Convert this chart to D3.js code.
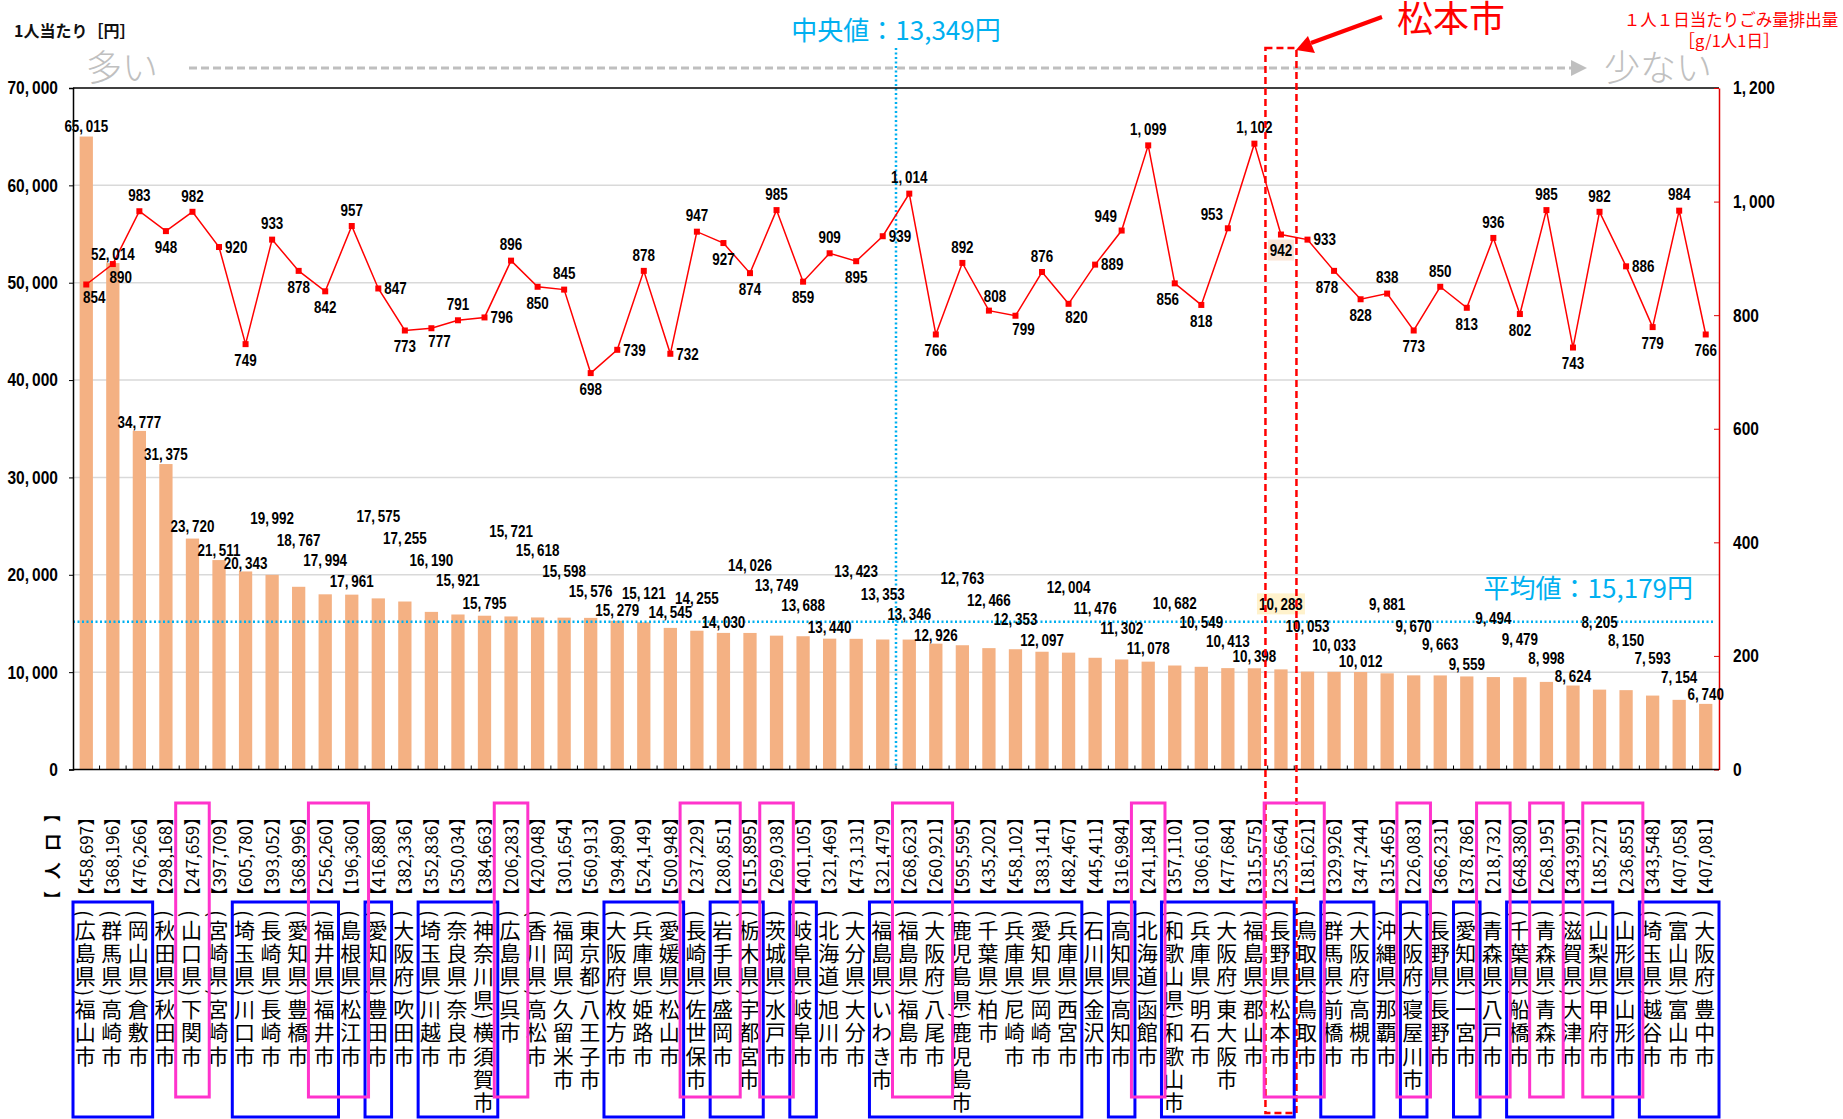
<!DOCTYPE html>
<html>
<head>
<meta charset="utf-8">
<script src="https://cdn.jsdelivr.net/npm/d3@7"></script>
<style>
  body { margin: 0; background: #fff; }
  svg { display: block; }
</style>
</head>
<body>
<svg id="chart" width="1843" height="1119"></svg>
<script>
// 1人当たりごみ処理費用（棒）と 1人1日当たりごみ排出量（折れ線）

const cities = [
  '(広島県)福山市', '(群馬県)高崎市', '(岡山県)倉敷市', '(秋田県)秋田市', '(山口県)下関市',
  '(宮崎県)宮崎市', '(埼玉県)川口市', '(長崎県)長崎市', '(愛知県)豊橋市', '(福井県)福井市',
  '(島根県)松江市', '(愛知県)豊田市', '(大阪府)吹田市', '(埼玉県)川越市', '(奈良県)奈良市',
  '(神奈川県)横須賀市', '(広島県)呉市', '(香川県)高松市', '(福岡県)久留米市', '(東京都)八王子市',
  '(大阪府)枚方市', '(兵庫県)姫路市', '(愛媛県)松山市', '(長崎県)佐世保市', '(岩手県)盛岡市',
  '(栃木県)宇都宮市', '(茨城県)水戸市', '(岐阜県)岐阜市', '(北海道)旭川市', '(大分県)大分市',
  '(福島県)いわき市', '(福島県)福島市', '(大阪府)八尾市', '(鹿児島県)鹿児島市', '(千葉県)柏市',
  '(兵庫県)尼崎市', '(愛知県)岡崎市', '(兵庫県)西宮市', '(石川県)金沢市', '(高知県)高知市',
  '(北海道)函館市', '(和歌山県)和歌山市', '(兵庫県)明石市', '(大阪府)東大阪市', '(福島県)郡山市',
  '(長野県)松本市', '(鳥取県)鳥取市', '(群馬県)前橋市', '(大阪府)高槻市', '(沖縄県)那覇市',
  '(大阪府)寝屋川市', '(長野県)長野市', '(愛知県)一宮市', '(青森県)八戸市', '(千葉県)船橋市',
  '(青森県)青森市', '(滋賀県)大津市', '(山梨県)甲府市', '(山形県)山形市', '(埼玉県)越谷市',
  '(富山県)富山市', '(大阪府)豊中市'
];

const population = [
  458697, 368196, 476266, 298168, 247659, 397709, 605780, 393052, 368996, 256260,
  196360, 416880, 382336, 352836, 350034, 384663, 206283, 420048, 301654, 560913,
  394890, 524149, 500948, 237229, 280851, 515895, 269038, 401105, 321469, 473131,
  321479, 268623, 260921, 595595, 435202, 458102, 383141, 482467, 445411, 316984,
  241184, 357110, 306610, 477684, 315575, 235664, 181621, 329926, 347244, 315465,
  226083, 366231, 378786, 218732, 648380, 268195, 343991, 185227, 236855, 343548,
  407058, 407081
];

// 1人当たり [円]
const costPerPerson = [
  65015, 52014, 34777, 31375, 23720, 21511, 20343, 19992, 18767, 17994,
  17961, 17575, 17255, 16190, 15921, 15795, 15721, 15618, 15598, 15576,
  15279, 15121, 14545, 14255, 14030, 14026, 13749, 13688, 13440, 13423,
  13353, 13346, 12926, 12763, 12466, 12353, 12097, 12004, 11476, 11302,
  11078, 10682, 10549, 10413, 10398, 10283, 10053, 10033, 10012, 9881,
  9670, 9663, 9559, 9494, 9479, 8998, 8624, 8205, 8150, 7593,
  7154, 6740
];

// 1人1日当たりごみ排出量 [g/1人1日]
const wastePerDay = [
  854, 890, 983, 948, 982, 920, 749, 933, 878, 842,
  957, 847, 773, 777, 791, 796, 896, 850, 845, 698,
  739, 878, 732, 947, 927, 874, 985, 859, 909, 895,
  939, 1014, 766, 892, 808, 799, 876, 820, 889, 949,
  1099, 856, 818, 953, 1102, 942, 933, 878, 828, 838,
  773, 850, 813, 936, 802, 985, 743, 982, 886, 779,
  984, 766
];

const medianCost = 13349;
const averageCost = 15179;
const focusCity = '(長野県)松本市';

const leftTicks = [0, 10000, 20000, 30000, 40000, 50000, 60000, 70000];
const rightTicks = [0, 200, 400, 600, 800, 1000, 1200];

// label layout (staggered by hand in the original), px above the bar top
const barLabelLift = [
  10, 9, 9, 10, 12, 10, 8, 57, 47, 34,
  13, 82, 63, 52, 34, 12, 85, 67, 46, 27,
  11, 29, 16, 32, 11, 68, 50, 31, 11, 68,
  45, 25, 8, 67, 48, 30, 11, 65, 50, 31,
  13, 62, 45, 27, 12, 65, 45, 27, 11, 69,
  49, 31, 12, 59, 38, 24, 9, 67, 50, 37,
  23, 10
];
const lineLabelPos = [
  'br', 'br', 'a', 'b', 'a', 'r', 'b', 'a', 'b', 'b',
  'a', 'r', 'b', 'br', 'a', 'r', 'a', 'b', 'a', 'b',
  'r', 'a', 'r', 'a', 'b', 'b', 'a', 'b', 'a', 'b',
  'r', 'a', 'b', 'a', 'ar', 'br', 'a', 'br', 'r', 'al',
  'a', 'bl', 'b', 'al', 'a', 'b', 'r', 'bl', 'b', 'a',
  'b', 'a', 'b', 'a', 'b', 'a', 'b', 'a', 'r', 'b',
  'a', 'b'
];

// groups framed under the axis (index ranges)
const blueGroups = [[0, 2], [6, 9], [11, 11], [13, 15], [20, 22], [24, 25], [27, 27], [30, 37],
                    [39, 39], [41, 45], [47, 48], [50, 50], [52, 52], [54, 57], [59, 61]];
const pinkGroups = [[4, 4], [9, 10], [16, 16], [23, 24], [26, 26], [31, 32], [40, 40], [45, 46],
                    [50, 50], [53, 53], [55, 55], [57, 58]];

const NUM_FONT = '"Liberation Sans", Arial, sans-serif';
const SX = 0.84; // horizontal squeeze to get a narrow face
const JP_FONT = '"Noto Sans CJK JP", "Noto Sans", sans-serif';

const svg = d3.select('#chart');
const M = { left: 73, right: 1719, top: 88, bottom: 769.5 };
const n = cities.length;

const x = d3.scaleBand().domain(d3.range(n)).range([M.left, M.right])
  .paddingInner(0.5).paddingOuter(0.25);
const bw = x.bandwidth();
const cx = i => x(i) + bw / 2;
const colLeft = i => x(i) - (x.step() - bw) / 2;
const colRight = i => colLeft(i) + x.step();

const yL = d3.scaleLinear().domain([0, 70000]).range([M.bottom, M.top]);
const yR = d3.scaleLinear().domain([0, 1200]).range([M.bottom, M.top]);
const fmt = d3.format(',');
const fmtW = v => fmt(v).replace(/,/g, ',\u2009'); // comma with a little air, as in the source

// narrow numeric text
function numText(parent, px, py, str, anchor, size) {
  return parent.append('text')
    .attr('transform', `translate(${px},${py}) scale(${SX},1)`)
    .attr('text-anchor', anchor).attr('dy', '0.36em')
    .attr('font-family', NUM_FONT).attr('font-size', size).attr('font-weight', 'bold')
    .attr('fill', '#000').text(str);
}

// ── gridlines
svg.append('g').selectAll('line')
  .data(leftTicks.filter(t => t > 0 && t < 70000)).join('line')
  .attr('x1', M.left).attr('x2', M.right)
  .attr('y1', d => yL(d)).attr('y2', d => yL(d))
  .attr('stroke', '#d9d9d9').attr('stroke-width', 1.5);

// ── bars
svg.append('g').selectAll('rect').data(costPerPerson).join('rect')
  .attr('x', (d, i) => x(i)).attr('y', d => yL(d))
  .attr('width', bw).attr('height', d => M.bottom - yL(d))
  .attr('fill', '#f4b183');

// ── average line (dotted)
const avgY = yL(averageCost);
svg.append('line')
  .attr('x1', M.left).attr('x2', M.right - 6).attr('y1', avgY).attr('y2', avgY)
  .attr('stroke', '#00b0f0').attr('stroke-width', 2.5).attr('stroke-dasharray', '2,2.5');
svg.append('text')
  .attr('x', M.right - 26).attr('y', avgY - 24)
  .attr('text-anchor', 'end').attr('font-family', JP_FONT).attr('font-size', 26)
  .attr('fill', '#00b0f0').text(`平均値：${fmt(averageCost)}円`);

// ── median line (between the two cities around the median)
const mIdx = costPerPerson.findIndex((v, i) => v >= medianCost && costPerPerson[i + 1] < medianCost);
const medX = colRight(mIdx);
svg.append('line')
  .attr('x1', medX).attr('x2', medX).attr('y1', 48).attr('y2', M.bottom)
  .attr('stroke', '#00b0f0').attr('stroke-width', 2.5).attr('stroke-dasharray', '2,2.5');
svg.append('text')
  .attr('x', medX).attr('y', 40)
  .attr('text-anchor', 'middle').attr('font-family', JP_FONT).attr('font-size', 26)
  .attr('fill', '#00b0f0').text(`中央値：${fmt(medianCost)}円`);

// ── frame / axes
svg.append('line').attr('x1', M.left).attr('x2', M.right).attr('y1', M.top).attr('y2', M.top)
  .attr('stroke', '#000').attr('stroke-width', 1.5);

const axL = svg.append('g').attr('transform', `translate(${M.left},0)`)
  .call(d3.axisLeft(yL).tickValues(leftTicks).tickSize(4).tickPadding(11).tickFormat(fmtW));
axL.select('.domain').attr('stroke', '#000').attr('stroke-width', 1.5);
axL.selectAll('.tick line').attr('stroke', '#000');
axL.selectAll('text').attr('x', -15 / SX).attr('transform', `scale(${SX},1)`)
  .attr('font-family', NUM_FONT).attr('font-size', 18.5)
  .attr('font-weight', 'bold').attr('fill', '#000');

const axR = svg.append('g').attr('transform', `translate(${M.right},0)`)
  .call(d3.axisRight(yR).tickValues(rightTicks).tickSizeInner(-5).tickSizeOuter(0)
    .tickPadding(14).tickFormat(fmtW));
axR.select('.domain').attr('stroke', '#e00000').attr('stroke-width', 1.5);
axR.selectAll('.tick line').attr('stroke', '#e00000');
axR.selectAll('text').attr('x', 14 / SX).attr('transform', `scale(${SX},1)`)
  .attr('font-family', NUM_FONT).attr('font-size', 18.5)
  .attr('font-weight', 'bold').attr('fill', '#000');

svg.append('line').attr('x1', M.left).attr('x2', M.right).attr('y1', M.bottom).attr('y2', M.bottom)
  .attr('stroke', '#000').attr('stroke-width', 1.5);
svg.append('g').selectAll('line').data(d3.range(n - 1)).join('line')
  .attr('x1', i => colRight(i)).attr('x2', i => colRight(i))
  .attr('y1', M.bottom).attr('y2', M.bottom - 4)
  .attr('stroke', '#000').attr('stroke-width', 1);

// ── waste line
const line = d3.line().x((d, i) => cx(i)).y(d => yR(d));
svg.append('path').datum(wastePerDay)
  .attr('fill', 'none').attr('stroke', '#ff0000').attr('stroke-width', 1.5).attr('d', line);
svg.append('g').selectAll('rect').data(wastePerDay).join('rect')
  .attr('x', (d, i) => cx(i) - 3).attr('y', d => yR(d) - 3)
  .attr('width', 6).attr('height', 6).attr('fill', '#ff0000');

const focusIdx = cities.indexOf(focusCity);

// ── bar value labels
const barLbl = svg.append('g');
costPerPerson.forEach((v, i) => {
  const ly = yL(v) - barLabelLift[i];
  if (i === focusIdx) {
    barLbl.append('rect').attr('x', cx(i) - 24).attr('y', ly - 11)
      .attr('width', 48).attr('height', 21).attr('fill', '#fff2cc');
  }
  numText(barLbl, cx(i), ly, fmtW(v), 'middle', 16);
});

// ── line value labels
const OFF = {
  a: [0, -16, 'middle'], b: [0, 16, 'middle'], r: [6, 0, 'start'],
  al: [-16, -14, 'middle'], ar: [6, -14, 'middle'], br: [8, 13, 'middle'], bl: [-7, 16, 'middle']
};
const lineLbl = svg.append('g');
wastePerDay.forEach((v, i) => {
  const [dx, dy, anchor] = OFF[lineLabelPos[i]];
  const lx = cx(i) + dx, ly = yR(v) + dy;
  if (i === focusIdx) {
    lineLbl.append('rect').attr('x', lx - 13).attr('y', ly - 11)
      .attr('width', 26).attr('height', 21).attr('fill', '#fbe5d6');
  }
  numText(lineLbl, lx, ly, fmtW(v), anchor, 16);
});

// ── titles
svg.append('text').attr('x', 14).attr('y', 37)
  .attr('font-family', JP_FONT).attr('font-size', 16).attr('font-weight', 'bold')
  .attr('fill', '#111').text('1人当たり［円］');
svg.append('text').attr('x', 1731).attr('y', 26).attr('text-anchor', 'middle')
  .attr('font-family', JP_FONT).attr('font-size', 16.5).attr('fill', '#ff0000')
  .text('１人１日当たりごみ量排出量');
svg.append('text').attr('x', 1729).attr('y', 47).attr('text-anchor', 'middle')
  .attr('font-family', JP_FONT).attr('font-size', 16.5).attr('fill', '#ff0000')
  .text('［g/1人1日］');

// 多い ---▶ 少ない
svg.append('text').attr('x', 86).attr('y', 81)
  .attr('font-family', JP_FONT).attr('font-size', 36).attr('font-weight', 300)
  .attr('fill', '#c0c0c0').text('多い');
svg.append('line').attr('x1', 189).attr('x2', 1572).attr('y1', 68).attr('y2', 68)
  .attr('stroke', '#bfbfbf').attr('stroke-width', 3).attr('stroke-dasharray', '8,4');
svg.append('path').attr('d', 'M1571,60 L1587,68 L1571,76 Z').attr('fill', '#bfbfbf');
svg.append('text').attr('x', 1604).attr('y', 81)
  .attr('font-family', JP_FONT).attr('font-size', 36).attr('font-weight', 300)
  .attr('fill', '#c0c0c0').text('少ない');

// ── focus city marker
const fx = cx(focusIdx);
svg.append('rect').attr('x', fx - 15.5).attr('y', 48).attr('width', 31).attr('height', 1065)
  .attr('fill', 'none').attr('stroke', '#ff0000').attr('stroke-width', 2.5)
  .attr('stroke-dasharray', '7,4');
svg.append('text').attr('x', fx + 170).attr('y', 32).attr('text-anchor', 'middle')
  .attr('font-family', JP_FONT).attr('font-size', 36).attr('fill', '#ff0000').text('松本市');
svg.append('line').attr('x1', fx + 101).attr('y1', 17).attr('x2', fx + 30).attr('y2', 43)
  .attr('stroke', '#ff0000').attr('stroke-width', 4);
svg.append('path')
  .attr('d', `M${fx + 15},${50} L${fx + 27},${36} L${fx + 34},${53} Z`)
  .attr('fill', '#ff0000');

// ── population labels (rotated) and city names (vertical)
svg.append('text')
  .attr('transform', 'translate(51,856.5) rotate(-90)')
  .attr('text-anchor', 'middle').attr('dominant-baseline', 'central')
  .attr('font-family', JP_FONT).attr('font-size', 17).attr('font-weight', 'bold')
  .attr('textLength', 103).attr('lengthAdjust', 'spacing')
  .text('【人口】');

svg.append('g').selectAll('text').data(population).join('text')
  .attr('transform', (d, i) => `translate(${cx(i) - 1},856.5) rotate(-90)`)
  .attr('text-anchor', 'middle').attr('dominant-baseline', 'central')
  .attr('font-family', JP_FONT).attr('font-size', 17).attr('fill', '#000')
  .text(d => `【${fmt(d)}】`);

svg.append('g').selectAll('text').data(cities).join('text')
  .attr('x', (d, i) => cx(i) - 1).attr('y', 910)
  .style('writing-mode', 'vertical-rl')
  .attr('font-family', JP_FONT).attr('font-size', 21).attr('letter-spacing', 2.3)
  .attr('fill', '#000')
  .text(d => d);

// ── group frames
const frames = svg.append('g').attr('fill', 'none');
blueGroups.forEach(([a, b]) => {
  frames.append('rect')
    .attr('x', colLeft(a)).attr('y', 902)
    .attr('width', colRight(b) - colLeft(a)).attr('height', 215)
    .attr('stroke', '#0000ff').attr('stroke-width', 3);
});
pinkGroups.forEach(([a, b]) => {
  frames.append('rect')
    .attr('x', colLeft(a) - 3.5).attr('y', 803)
    .attr('width', colRight(b) - colLeft(a) + 7).attr('height', 294)
    .attr('stroke', '#ff33cc').attr('stroke-width', 3);
});
</script>
</body>
</html>
